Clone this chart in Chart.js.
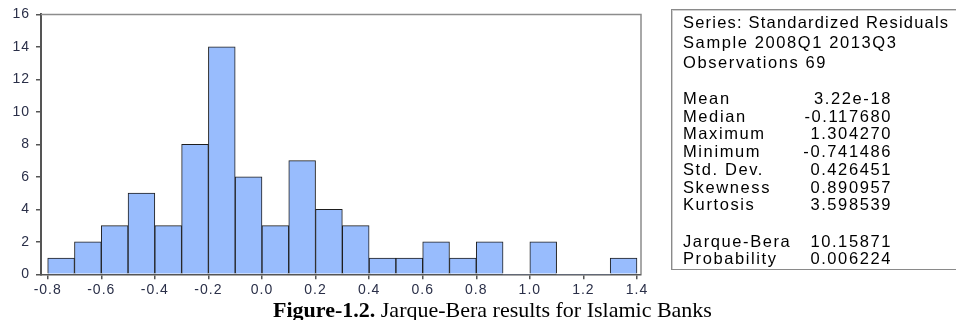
<!DOCTYPE html>
<html>
<head>
<meta charset="utf-8">
<script src="https://cdn.jsdelivr.net/npm/chart.js@4/dist/chart.umd.min.js"></script>
<style>
  html, body { margin: 0; padding: 0; background: #fff; }
  #wrap { position: relative; width: 956px; height: 320px; overflow: hidden; }
  #chart { position: absolute; left: 0; top: 0; }
  #stats { position: absolute; left: 671px; top: 9px; width: 320px; height: 259px;
    border: 1px solid #8a8a8a; box-shadow: inset 1px 1px 0 #d0d0d0;
    font-family: "Liberation Sans", Arial, sans-serif; font-size: 16.5px; color: #000; letter-spacing: 1.6px; }
  #stats .l { position: absolute; left: 11px; white-space: nowrap; line-height: 18px; }
  #stats .h0 { letter-spacing: 1.2px; }
  #stats .v { position: absolute; right: 100px; white-space: nowrap; text-align: right; line-height: 18px; }
  #caption { position: absolute; left: 0; width: 985px; top: 299px; text-align: center; line-height: 22px;
    font-family: "Liberation Serif", "Times New Roman", serif; font-size: 22px; color: #000; white-space: nowrap; }
</style>
</head>
<body>
<div id="wrap">
  <canvas id="chart" width="956" height="320"></canvas>
  <div id="stats"></div>
  <div id="caption"><b>Figure-1.2.</b> Jarque-Bera results for Islamic Banks</div>
</div>
<script>
// ---- data ----
const binCenters = [-0.75, -0.65, -0.55, -0.45, -0.35, -0.25, -0.15, -0.05, 0.05, 0.15, 0.25,
                    0.35, 0.45, 0.55, 0.65, 0.75, 0.85, 0.95, 1.05, 1.15, 1.25, 1.35];
const counts = [1, 2, 3, 5, 3, 8, 14, 6, 3, 7, 4, 3, 1, 1, 2, 1, 2, 0, 2, 0, 0, 1];
const xTickValues = [-0.8, -0.6, -0.4, -0.2, 0.0, 0.2, 0.4, 0.6, 0.8, 1.0, 1.2, 1.4];
const yTickValues = [0, 2, 4, 6, 8, 10, 12, 14, 16];
const headerLines = ["Series: Standardized Residuals", "Sample 2008Q1 2013Q3", "Observations 69"];
const statNames = ["Mean", "Median", "Maximum", "Minimum", "Std. Dev.", "Skewness", "Kurtosis"];
const statValues = ["3.22e-18", "-0.117680", "1.304270", "-0.741486", "0.426451", "0.890957", "3.598539"];
const testNames = ["Jarque-Bera", "Probability"];
const testValues = ["10.15871", "0.006224"];

// ---- stats box ----
const box = document.getElementById('stats');
function addLine(cls, text, top) {
  const d = document.createElement('div');
  d.className = cls; d.textContent = text; d.style.top = top + 'px';
  box.appendChild(d);
}
headerLines.forEach((t, i) => addLine(i === 0 ? 'l h0' : 'l', t, 3 + i * 20));
statNames.forEach((t, i) => { addLine('l', t, 79 + i * 17.7); addLine('v', statValues[i], 79 + i * 17.7); });
testNames.forEach((t, i) => { addLine('l', t, 221.5 + i * 17.7); addLine('v', testValues[i], 221.5 + i * 17.7); });

// ---- chart ----
const framePlugin = {
  id: 'frame',
  beforeLayout(chart) { chart.ctx.letterSpacing = '1px'; },
  beforeDraw(chart) { chart.ctx.letterSpacing = '1px'; },
  afterDraw(chart) {
    const { ctx, chartArea: a } = chart;
    ctx.save();
    ctx.strokeStyle = '#8c8c8c';
    ctx.lineWidth = 1.5;
    ctx.beginPath();
    ctx.moveTo(a.left, a.top);
    ctx.lineTo(a.right, a.top);
    ctx.lineTo(a.right, a.bottom);
    ctx.stroke();
    ctx.restore();
  }
};

const tickFont = { family: "'Liberation Sans', Arial, sans-serif", size: 14 };

new Chart(document.getElementById('chart'), {
  type: 'bar',
  data: {
    datasets: [{
      data: binCenters.map((x, i) => ({ x: x, y: counts[i] })),
      backgroundColor: '#98bcfd',
      borderColor: '#1e1e1e',
      borderWidth: (c) => (counts[c.dataIndex] ? 1 : 0),
      barPercentage: 1,
      categoryPercentage: 1
    }]
  },
  options: {
    responsive: false,
    animation: false,
    layout: { padding: { left: 0, top: 10.7, right: 315, bottom: 22.7 } },
    plugins: { legend: { display: false }, tooltip: { enabled: false } },
    scales: {
      x: {
        type: 'linear',
        offset: false,
        min: -0.825, max: 1.415,
        afterBuildTicks: (s) => { s.ticks = xTickValues.map(v => ({ value: v })); },
        afterFit: (s) => { s.height = 23; },
        ticks: { font: tickFont, color: '#2a2f48', padding: 2, maxRotation: 0, autoSkip: false,
                 callback: (v) => Number(v).toFixed(1) },
        grid: { offset: false, drawOnChartArea: false, drawTicks: true, tickLength: 5, color: '#555', lineWidth: 1.5 },
        border: { color: '#555', width: 1.5 }
      },
      y: {
        min: 0, max: 16,
        afterBuildTicks: (s) => { s.ticks = yTickValues.map(v => ({ value: v })); },
        afterFit: (s) => { s.width = 41; },
        ticks: { font: tickFont, color: '#2a2f48', padding: 6 },
        grid: { drawOnChartArea: false, drawTicks: true, tickLength: 5, color: '#555', lineWidth: 1.5 },
        border: { color: '#555', width: 2 }
      }
    }
  },
  plugins: [framePlugin]
});
</script>
</body>
</html>
